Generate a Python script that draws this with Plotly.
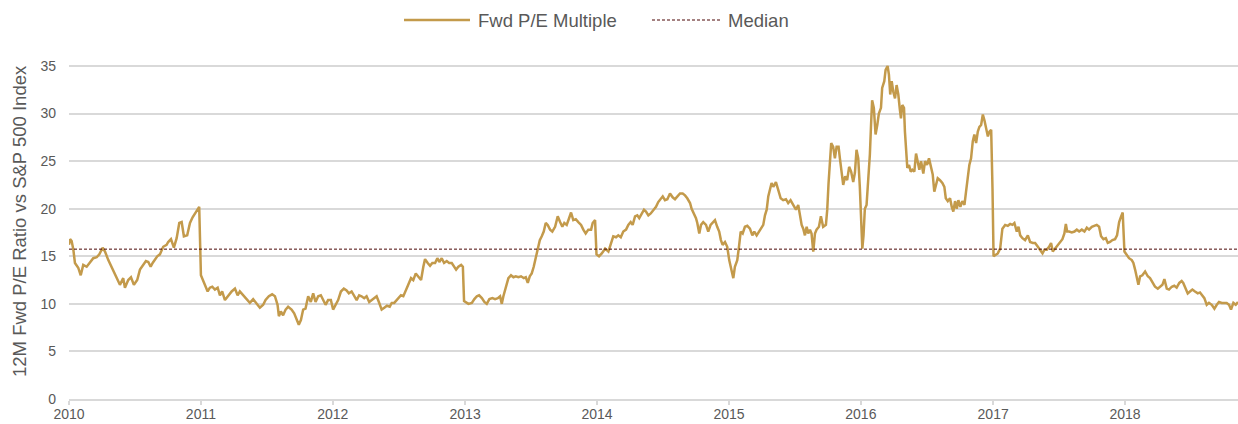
import numpy as np
import pandas as pd
import plotly.graph_objects as go

# ---------------- data ----------------
SERIES_NAME = "Fwd P/E Multiple"
MEDIAN_NAME = "Median"
Y_TITLE = "12M Fwd P/E Ratio vs S&P 500 Index"
MEDIAN_PE = 15.75
Y_TICKS = [0, 5, 10, 15, 20, 25, 30, 35]
YEAR_TICKS = list(range(2010, 2019))

DECIMAL_YEARS = [
    2010.000, 2010.008, 2010.020, 2010.033, 2010.045, 2010.070, 2010.089, 2010.108, 2010.134, 2010.159,
    2010.184, 2010.210, 2010.230, 2010.255, 2010.273, 2010.298, 2010.323, 2010.348, 2010.373, 2010.386,
    2010.411, 2010.424, 2010.449, 2010.470, 2010.492, 2010.517, 2010.538, 2010.563, 2010.583, 2010.601,
    2010.619, 2010.634, 2010.652, 2010.669, 2010.689, 2010.714, 2010.740, 2010.752, 2010.773, 2010.795,
    2010.816, 2010.836, 2010.854, 2010.871, 2010.896, 2010.917, 2010.937, 2010.955, 2010.972, 2010.987,
    2011.000, 2011.030, 2011.051, 2011.068, 2011.086, 2011.106, 2011.127, 2011.144, 2011.161, 2011.182,
    2011.207, 2011.233, 2011.258, 2011.278, 2011.295, 2011.320, 2011.346, 2011.371, 2011.396, 2011.422,
    2011.447, 2011.472, 2011.490, 2011.515, 2011.540, 2011.561, 2011.581, 2011.591, 2011.606, 2011.623,
    2011.642, 2011.661, 2011.687, 2011.707, 2011.725, 2011.742, 2011.758, 2011.775, 2011.793, 2011.813,
    2011.833, 2011.851, 2011.869, 2011.889, 2011.909, 2011.927, 2011.945, 2011.964, 2011.985, 2012.002,
    2012.020, 2012.040, 2012.061, 2012.083, 2012.104, 2012.121, 2012.142, 2012.161, 2012.180, 2012.199,
    2012.217, 2012.237, 2012.255, 2012.275, 2012.293, 2012.313, 2012.331, 2012.348, 2012.369, 2012.389,
    2012.409, 2012.430, 2012.445, 2012.464, 2012.483, 2012.500, 2012.515, 2012.533, 2012.551, 2012.570,
    2012.591, 2012.608, 2012.627, 2012.646, 2012.667, 2012.684, 2012.697, 2012.717, 2012.735, 2012.752,
    2012.773, 2012.790, 2012.805, 2012.823, 2012.841, 2012.861, 2012.879, 2012.899, 2012.917, 2012.932,
    2012.949, 2012.970, 2012.983, 2012.992, 2013.025, 2013.051, 2013.070, 2013.089, 2013.106, 2013.127,
    2013.146, 2013.164, 2013.184, 2013.207, 2013.227, 2013.248, 2013.265, 2013.278, 2013.290, 2013.308,
    2013.328, 2013.348, 2013.366, 2013.384, 2013.404, 2013.424, 2013.445, 2013.460, 2013.475, 2013.490,
    2013.505, 2013.520, 2013.536, 2013.551, 2013.566, 2013.581, 2013.596, 2013.611, 2013.626, 2013.644,
    2013.661, 2013.682, 2013.702, 2013.720, 2013.737, 2013.752, 2013.770, 2013.788, 2013.803, 2013.820,
    2013.839, 2013.858, 2013.879, 2013.896, 2013.914, 2013.934, 2013.955, 2013.967, 2013.985, 2013.996,
    2014.015, 2014.036, 2014.061, 2014.086, 2014.104, 2014.123, 2014.144, 2014.161, 2014.180, 2014.199,
    2014.220, 2014.237, 2014.255, 2014.270, 2014.288, 2014.305, 2014.320, 2014.339, 2014.356, 2014.371,
    2014.389, 2014.407, 2014.426, 2014.447, 2014.464, 2014.483, 2014.498, 2014.515, 2014.533, 2014.553,
    2014.573, 2014.591, 2014.608, 2014.629, 2014.649, 2014.667, 2014.684, 2014.705, 2014.717, 2014.735,
    2014.750, 2014.760, 2014.775, 2014.788, 2014.805, 2014.826, 2014.843, 2014.861, 2014.881, 2014.894,
    2014.911, 2014.926, 2014.939, 2014.952, 2014.970, 2014.987, 2015.002, 2015.020, 2015.033, 2015.045,
    2015.063, 2015.076, 2015.089, 2015.104, 2015.121, 2015.139, 2015.159, 2015.177, 2015.192, 2015.210,
    2015.227, 2015.245, 2015.260, 2015.273, 2015.286, 2015.298, 2015.311, 2015.323, 2015.336, 2015.356,
    2015.373, 2015.392, 2015.411, 2015.432, 2015.449, 2015.467, 2015.487, 2015.508, 2015.525, 2015.538,
    2015.551, 2015.563, 2015.576, 2015.589, 2015.601, 2015.614, 2015.626, 2015.639, 2015.652, 2015.664,
    2015.682, 2015.697, 2015.714, 2015.735, 2015.745, 2015.755, 2015.765, 2015.775, 2015.790, 2015.803,
    2015.816, 2015.831, 2015.841, 2015.854, 2015.866, 2015.881, 2015.896, 2015.911, 2015.926, 2015.942,
    2015.955, 2015.967, 2015.980, 2015.992, 2016.002, 2016.011, 2016.020, 2016.030, 2016.043, 2016.055,
    2016.068, 2016.076, 2016.085, 2016.098, 2016.111, 2016.124, 2016.136, 2016.152, 2016.161, 2016.177,
    2016.187, 2016.202, 2016.212, 2016.222, 2016.233, 2016.245, 2016.258, 2016.270, 2016.283, 2016.295,
    2016.303, 2016.313, 2016.326, 2016.333, 2016.341, 2016.351, 2016.364, 2016.377, 2016.389, 2016.404,
    2016.417, 2016.430, 2016.442, 2016.455, 2016.472, 2016.485, 2016.500, 2016.515, 2016.530, 2016.543,
    2016.555, 2016.566, 2016.581, 2016.598, 2016.616, 2016.631, 2016.642, 2016.657, 2016.674, 2016.687,
    2016.699, 2016.712, 2016.725, 2016.737, 2016.752, 2016.767, 2016.783, 2016.795, 2016.808, 2016.820,
    2016.833, 2016.846, 2016.858, 2016.871, 2016.884, 2016.896, 2016.909, 2016.922, 2016.934, 2016.947,
    2016.960, 2016.972, 2016.985, 2016.995, 2017.003, 2017.015, 2017.035, 2017.053, 2017.070, 2017.091,
    2017.111, 2017.129, 2017.146, 2017.161, 2017.179, 2017.192, 2017.205, 2017.222, 2017.242, 2017.263,
    2017.280, 2017.301, 2017.318, 2017.339, 2017.356, 2017.374, 2017.389, 2017.407, 2017.424, 2017.439,
    2017.452, 2017.470, 2017.490, 2017.508, 2017.525, 2017.540, 2017.551, 2017.561, 2017.576, 2017.596,
    2017.616, 2017.634, 2017.652, 2017.672, 2017.692, 2017.710, 2017.727, 2017.748, 2017.767, 2017.785,
    2017.803, 2017.818, 2017.836, 2017.854, 2017.869, 2017.886, 2017.904, 2017.924, 2017.939, 2017.955,
    2017.970, 2017.982, 2017.995, 2018.013, 2018.030, 2018.051, 2018.063, 2018.076, 2018.089, 2018.101,
    2018.114, 2018.131, 2018.152, 2018.172, 2018.189, 2018.207, 2018.227, 2018.248, 2018.265, 2018.283,
    2018.298, 2018.316, 2018.333, 2018.354, 2018.373, 2018.391, 2018.411, 2018.429, 2018.441, 2018.460,
    2018.475, 2018.492, 2018.510, 2018.530, 2018.551, 2018.568, 2018.586, 2018.601, 2018.619, 2018.636,
    2018.657, 2018.677, 2018.695, 2018.712, 2018.733, 2018.752, 2018.770, 2018.788, 2018.803, 2018.821,
    2018.839, 2018.856,
]

PE_VALUES = [
    16.2, 16.8, 16.6, 15.7, 14.3, 13.8, 13.0, 14.1, 13.9, 14.4,
    14.8, 14.9, 15.2, 15.9, 15.5, 14.6, 13.9, 13.2, 12.5, 12.0,
    12.7, 11.7, 12.5, 12.8, 12.0, 12.5, 13.6, 14.1, 14.5, 14.4,
    13.9, 14.3, 14.6, 15.0, 15.2, 16.0, 16.2, 16.5, 16.8, 15.9,
    16.9, 18.5, 18.6, 17.1, 17.2, 18.5, 19.1, 19.5, 20.0, 20.2,
    13.0, 12.0, 11.3, 11.7, 11.8, 11.5, 11.7, 10.9, 11.3, 10.4,
    10.9, 11.3, 11.6, 10.9, 11.3, 10.9, 10.6, 10.1, 10.5, 10.0,
    9.6, 9.9, 10.4, 10.8, 11.0, 10.8, 9.9, 8.7, 9.2, 8.8,
    9.4, 9.7, 9.4, 9.0, 8.3, 7.8, 8.3, 9.4, 9.5, 10.8,
    10.2, 11.1, 10.2, 10.8, 10.9, 10.4, 9.9, 10.4, 10.4, 9.4,
    9.9, 10.4, 11.3, 11.6, 11.4, 11.1, 11.3, 10.9, 10.4, 10.9,
    10.8, 10.6, 10.8, 10.2, 10.4, 10.6, 10.8, 10.2, 9.4, 9.6,
    9.8, 9.7, 10.1, 10.1, 10.4, 10.6, 10.9, 10.8, 11.3, 12.0,
    12.7, 12.5, 13.2, 12.9, 12.5, 13.9, 14.7, 14.3, 14.0, 14.3,
    14.3, 14.8, 14.4, 14.8, 14.3, 14.5, 14.3, 14.3, 13.9, 13.6,
    13.9, 14.1, 13.9, 10.3, 10.0, 10.1, 10.5, 10.8, 10.9, 10.6,
    10.2, 10.0, 10.5, 10.6, 10.5, 10.6, 10.8, 10.0, 10.8, 11.6,
    12.7, 13.0, 12.8, 12.9, 12.8, 12.9, 12.7, 12.8, 12.2, 12.9,
    13.2, 13.9, 14.8, 15.8, 16.7, 17.1, 17.6, 18.5, 18.3, 17.8,
    17.6, 18.1, 19.2, 18.6, 18.1, 18.5, 18.3, 19.0, 19.6, 18.8,
    18.9, 18.6, 18.3, 17.8, 17.4, 17.8, 17.8, 18.5, 18.8, 15.2,
    15.0, 15.3, 15.8, 15.5, 16.4, 17.1, 17.0, 17.2, 17.0, 17.6,
    17.8, 18.3, 18.6, 18.3, 19.2, 19.3, 19.0, 19.5, 19.9, 19.7,
    19.3, 19.5, 19.9, 20.2, 20.7, 21.1, 21.3, 20.9, 21.0, 21.6,
    21.2, 21.0, 21.3, 21.6, 21.6, 21.4, 21.1, 20.6, 20.0, 19.5,
    19.0, 18.5, 17.4, 18.3, 18.6, 18.3, 17.6, 18.3, 18.6, 18.8,
    18.1, 17.6, 16.7, 16.2, 16.5, 16.0, 14.6, 13.6, 12.7, 13.9,
    14.6, 16.0, 17.6, 17.4, 18.1, 18.2, 17.9, 17.2, 17.6, 17.2,
    17.6, 17.9, 18.3, 19.3, 19.9, 21.3, 22.0, 22.7, 22.3, 22.8,
    22.0, 21.1, 20.9, 21.0, 20.6, 20.9, 20.4, 19.9, 20.4, 19.2,
    18.3, 17.9, 17.2, 18.1, 17.4, 17.8, 17.4, 15.5, 17.4, 17.8,
    18.1, 19.2, 18.1, 18.3, 19.9, 22.7, 25.1, 26.9, 26.5, 25.3,
    26.5, 26.5, 25.3, 24.1, 22.5, 23.4, 23.0, 24.4, 23.9, 22.8,
    23.8, 26.2, 25.3, 22.3, 18.1, 15.8, 17.2, 20.0, 20.4, 22.8,
    25.7, 28.5, 31.4, 30.6, 27.8, 28.8, 30.0, 30.6, 32.7, 33.4,
    34.6, 35.0, 34.1, 32.0, 33.4, 32.3, 31.6, 33.0, 32.0, 30.4,
    29.5, 30.9, 30.6, 28.1, 26.0, 24.3, 24.6, 23.9, 24.1, 23.9,
    25.8, 24.8, 24.1, 25.0, 23.7, 25.0, 24.6, 25.3, 24.3, 23.6,
    21.8, 22.5, 23.2, 23.0, 22.7, 22.3, 21.1, 20.8, 21.1, 20.2,
    19.7, 20.8, 20.0, 20.9, 20.2, 20.8, 20.4, 21.8, 23.6, 24.6,
    25.3, 27.1, 27.8, 26.9, 28.1, 28.6, 28.8, 29.9, 29.3, 28.6,
    27.6, 28.1, 28.3, 22.1, 15.0, 15.1, 15.3, 15.8, 17.9, 18.3,
    18.2, 18.4, 18.3, 18.5, 17.6, 18.1, 17.2, 16.9, 16.7, 17.2,
    16.5, 16.4, 16.4, 16.0, 15.7, 15.3, 15.7, 15.7, 16.0, 16.4,
    15.5, 15.8, 16.2, 16.4, 16.8, 17.4, 18.4, 17.6, 17.6, 17.5,
    17.6, 17.8, 17.6, 17.8, 17.6, 18.0, 17.8, 18.1, 18.2, 18.3,
    18.1, 17.1, 16.8, 16.9, 16.4, 16.5, 16.7, 16.8, 17.2, 18.6,
    19.2, 19.6, 15.5, 15.1, 14.8, 14.6, 14.3, 13.6, 12.7, 12.0,
    12.9, 13.0, 13.4, 12.9, 12.7, 12.3, 11.8, 11.6, 11.8, 12.0,
    12.6, 11.6, 11.5, 11.8, 11.9, 11.7, 12.2, 12.4, 12.2, 11.5,
    11.1, 11.3, 11.5, 11.3, 11.1, 11.2, 10.8, 10.6, 9.9, 10.1,
    9.9, 9.5, 9.9, 10.2, 10.1, 10.1, 10.1, 9.9, 9.4, 10.1,
    9.9, 10.2,
]


def to_date(dec_year):
    yr = int(np.floor(dec_year))
    start = pd.Timestamp(year=yr, month=1, day=1)
    end = pd.Timestamp(year=yr + 1, month=1, day=1)
    return start + (end - start) * (dec_year - yr)


dates = [to_date(v) for v in DECIMAL_YEARS]
x_start = pd.Timestamp(year=YEAR_TICKS[0], month=1, day=1)
x_end = dates[-1]

# ---------------- styling / geometry ----------------
W, H = 1238, 424
ML, MR, MT, MB = 69, 0, 58, 25
PLOT_W = W - ML - MR
PLOT_H = H - MT - MB
Y_MAX = 35.0 * PLOT_H / 333.0

GOLD = "#C39A4B"
MEDIAN_COLOR = "#4A0505"
TEXT = "#595959"
GRID = "#D9D9D9"
FONT = "Liberation Sans, Arial, sans-serif"


def px_x(p):
    return (p - ML) / PLOT_W


def px_y(p):
    return (H - MB - p) / PLOT_H


fig = go.Figure()
fig.add_trace(go.Scatter(
    x=dates, y=PE_VALUES, mode="lines", name=SERIES_NAME,
    line=dict(color=GOLD, width=2.5), showlegend=False,
))
fig.add_trace(go.Scatter(
    x=[x_start, x_end], y=[MEDIAN_PE, MEDIAN_PE], mode="lines", name=MEDIAN_NAME,
    line=dict(color=MEDIAN_COLOR, width=1, dash="3px,2px"), showlegend=False,
))

# manual legend
legend_y = px_y(20)
fig.add_shape(type="line", xref="paper", yref="paper", x0=px_x(404), x1=px_x(470),
              y0=legend_y, y1=legend_y, line=dict(color=GOLD, width=2.5))
fig.add_shape(type="line", xref="paper", yref="paper", x0=px_x(652), x1=px_x(720),
              y0=legend_y, y1=legend_y, line=dict(color=MEDIAN_COLOR, width=1, dash="3px,2px"))
fig.add_annotation(x=px_x(476), y=legend_y, xref="paper", yref="paper", text=SERIES_NAME,
                   showarrow=False, xanchor="left", yanchor="middle",
                   font=dict(family=FONT, size=18.5, color=TEXT))
fig.add_annotation(x=px_x(726), y=legend_y, xref="paper", yref="paper", text=MEDIAN_NAME,
                   showarrow=False, xanchor="left", yanchor="middle",
                   font=dict(family=FONT, size=18.5, color=TEXT))

# y-axis title
fig.add_annotation(x=px_x(19), y=px_y(221), xref="paper", yref="paper", text=Y_TITLE,
                   textangle=-90, showarrow=False, xanchor="center", yanchor="middle",
                   font=dict(family=FONT, size=18.5, color=TEXT))

fig.update_layout(
    width=W, height=H,
    margin=dict(l=ML, r=MR, t=MT, b=MB, autoexpand=False),
    paper_bgcolor="white", plot_bgcolor="white",
    font=dict(family=FONT, size=14, color=TEXT),
    showlegend=False,
)
fig.update_xaxes(
    type="date", range=[x_start, x_end],
    tickvals=[pd.Timestamp(year=y, month=1, day=1) for y in YEAR_TICKS],
    ticktext=[str(y) for y in YEAR_TICKS],
    showgrid=False, zeroline=False,
    showline=True, linecolor=GRID, linewidth=1.5,
    ticks="outside", ticklen=4, tickcolor=GRID, tickwidth=1.5,
    ticklabelstandoff=-3,
    tickfont=dict(family=FONT, size=14, color=TEXT),
)
fig.update_yaxes(
    range=[0, Y_MAX], tickvals=Y_TICKS, ticktext=[str(v) for v in Y_TICKS],
    showgrid=True, gridcolor=GRID, gridwidth=1.5, zeroline=False, showline=False,
    ticks="", ticklabelstandoff=12,
    tickfont=dict(family=FONT, size=14, color=TEXT),
)

fig.write_html(
    "out.html",
    config={"displayModeBar": False},
    post_script="document.body.style.margin='0';document.body.style.overflow='hidden';",
)
